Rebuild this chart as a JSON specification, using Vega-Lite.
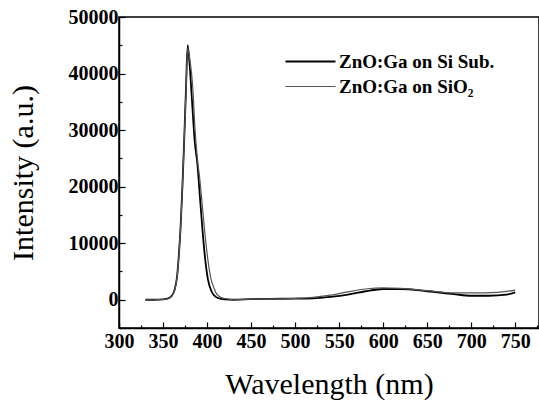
{
  "$schema": "https://vega.github.io/schema/vega-lite/v6.json",
  "width": 420,
  "height": 311,
  "autosize": "none",
  "padding": {"left": 119, "top": 17, "right": 0, "bottom": 77},
  "background": "white",
  "config": {
    "view": {"stroke": "black", "strokeWidth": 1.5},
    "font": "Liberation Serif, Times New Roman, serif",
    "axis": {
      "domainColor": "black", "domainWidth": 1.5, "tickColor": "black", "tickWidth": 1.2,
      "grid": false, "labelFont": "Liberation Serif, Times New Roman, serif", "labelFontWeight": "bold", "labelFontSize": 20,
      "labelColor": "black", "titleFont": "Liberation Serif, Times New Roman, serif", "titleFontWeight": "normal",
      "titleFontSize": 30, "titleColor": "black", "format": "d", "labelFlush": false, "labelOverlap": false
    }
  },
  "datasets": {
    "spectra": [
      {"wl": 330, "I": 0, "s": "ZnO:Ga on Si Sub."},
      {"wl": 340, "I": 0, "s": "ZnO:Ga on Si Sub."},
      {"wl": 350, "I": 60, "s": "ZnO:Ga on Si Sub."},
      {"wl": 355, "I": 180, "s": "ZnO:Ga on Si Sub."},
      {"wl": 360, "I": 700, "s": "ZnO:Ga on Si Sub."},
      {"wl": 363, "I": 1700, "s": "ZnO:Ga on Si Sub."},
      {"wl": 366, "I": 4200, "s": "ZnO:Ga on Si Sub."},
      {"wl": 368, "I": 8000, "s": "ZnO:Ga on Si Sub."},
      {"wl": 370, "I": 13000, "s": "ZnO:Ga on Si Sub."},
      {"wl": 372, "I": 20000, "s": "ZnO:Ga on Si Sub."},
      {"wl": 374, "I": 28000, "s": "ZnO:Ga on Si Sub."},
      {"wl": 376, "I": 37000, "s": "ZnO:Ga on Si Sub."},
      {"wl": 378, "I": 45000, "s": "ZnO:Ga on Si Sub."},
      {"wl": 380, "I": 42000, "s": "ZnO:Ga on Si Sub."},
      {"wl": 383, "I": 35000, "s": "ZnO:Ga on Si Sub."},
      {"wl": 386, "I": 28000, "s": "ZnO:Ga on Si Sub."},
      {"wl": 389, "I": 24000, "s": "ZnO:Ga on Si Sub."},
      {"wl": 392, "I": 18000, "s": "ZnO:Ga on Si Sub."},
      {"wl": 395, "I": 12000, "s": "ZnO:Ga on Si Sub."},
      {"wl": 398, "I": 7000, "s": "ZnO:Ga on Si Sub."},
      {"wl": 401, "I": 3600, "s": "ZnO:Ga on Si Sub."},
      {"wl": 405, "I": 1500, "s": "ZnO:Ga on Si Sub."},
      {"wl": 410, "I": 500, "s": "ZnO:Ga on Si Sub."},
      {"wl": 415, "I": 200, "s": "ZnO:Ga on Si Sub."},
      {"wl": 420, "I": 50, "s": "ZnO:Ga on Si Sub."},
      {"wl": 430, "I": 0, "s": "ZnO:Ga on Si Sub."},
      {"wl": 450, "I": 100, "s": "ZnO:Ga on Si Sub."},
      {"wl": 470, "I": 150, "s": "ZnO:Ga on Si Sub."},
      {"wl": 500, "I": 200, "s": "ZnO:Ga on Si Sub."},
      {"wl": 520, "I": 250, "s": "ZnO:Ga on Si Sub."},
      {"wl": 540, "I": 500, "s": "ZnO:Ga on Si Sub."},
      {"wl": 560, "I": 900, "s": "ZnO:Ga on Si Sub."},
      {"wl": 580, "I": 1500, "s": "ZnO:Ga on Si Sub."},
      {"wl": 600, "I": 1900, "s": "ZnO:Ga on Si Sub."},
      {"wl": 620, "I": 1900, "s": "ZnO:Ga on Si Sub."},
      {"wl": 650, "I": 1500, "s": "ZnO:Ga on Si Sub."},
      {"wl": 680, "I": 1000, "s": "ZnO:Ga on Si Sub."},
      {"wl": 700, "I": 700, "s": "ZnO:Ga on Si Sub."},
      {"wl": 720, "I": 700, "s": "ZnO:Ga on Si Sub."},
      {"wl": 740, "I": 900, "s": "ZnO:Ga on Si Sub."},
      {"wl": 750, "I": 1300, "s": "ZnO:Ga on Si Sub."},
      {"wl": 330, "I": 0, "s": "ZnO:Ga on SiO₂"},
      {"wl": 340, "I": 0, "s": "ZnO:Ga on SiO₂"},
      {"wl": 350, "I": 50, "s": "ZnO:Ga on SiO₂"},
      {"wl": 355, "I": 160, "s": "ZnO:Ga on SiO₂"},
      {"wl": 360, "I": 650, "s": "ZnO:Ga on SiO₂"},
      {"wl": 363, "I": 1600, "s": "ZnO:Ga on SiO₂"},
      {"wl": 366, "I": 4000, "s": "ZnO:Ga on SiO₂"},
      {"wl": 368, "I": 7800, "s": "ZnO:Ga on SiO₂"},
      {"wl": 370, "I": 12800, "s": "ZnO:Ga on SiO₂"},
      {"wl": 372, "I": 19800, "s": "ZnO:Ga on SiO₂"},
      {"wl": 374, "I": 27800, "s": "ZnO:Ga on SiO₂"},
      {"wl": 376, "I": 36500, "s": "ZnO:Ga on SiO₂"},
      {"wl": 378, "I": 44500, "s": "ZnO:Ga on SiO₂"},
      {"wl": 380, "I": 43000, "s": "ZnO:Ga on SiO₂"},
      {"wl": 384, "I": 37000, "s": "ZnO:Ga on SiO₂"},
      {"wl": 386, "I": 31000, "s": "ZnO:Ga on SiO₂"},
      {"wl": 389, "I": 25000, "s": "ZnO:Ga on SiO₂"},
      {"wl": 392, "I": 21000, "s": "ZnO:Ga on SiO₂"},
      {"wl": 395, "I": 16000, "s": "ZnO:Ga on SiO₂"},
      {"wl": 398, "I": 11000, "s": "ZnO:Ga on SiO₂"},
      {"wl": 401, "I": 7000, "s": "ZnO:Ga on SiO₂"},
      {"wl": 404, "I": 4000, "s": "ZnO:Ga on SiO₂"},
      {"wl": 408, "I": 2000, "s": "ZnO:Ga on SiO₂"},
      {"wl": 412, "I": 800, "s": "ZnO:Ga on SiO₂"},
      {"wl": 418, "I": 300, "s": "ZnO:Ga on SiO₂"},
      {"wl": 425, "I": 100, "s": "ZnO:Ga on SiO₂"},
      {"wl": 430, "I": 0, "s": "ZnO:Ga on SiO₂"},
      {"wl": 450, "I": 100, "s": "ZnO:Ga on SiO₂"},
      {"wl": 500, "I": 250, "s": "ZnO:Ga on SiO₂"},
      {"wl": 520, "I": 400, "s": "ZnO:Ga on SiO₂"},
      {"wl": 540, "I": 800, "s": "ZnO:Ga on SiO₂"},
      {"wl": 560, "I": 1400, "s": "ZnO:Ga on SiO₂"},
      {"wl": 580, "I": 1900, "s": "ZnO:Ga on SiO₂"},
      {"wl": 600, "I": 2100, "s": "ZnO:Ga on SiO₂"},
      {"wl": 620, "I": 2000, "s": "ZnO:Ga on SiO₂"},
      {"wl": 650, "I": 1600, "s": "ZnO:Ga on SiO₂"},
      {"wl": 680, "I": 1200, "s": "ZnO:Ga on SiO₂"},
      {"wl": 700, "I": 1200, "s": "ZnO:Ga on SiO₂"},
      {"wl": 730, "I": 1300, "s": "ZnO:Ga on SiO₂"},
      {"wl": 750, "I": 1700, "s": "ZnO:Ga on SiO₂"}
    ]
  },
  "data": {"name": "spectra"},
  "layer": [
    {
      "mark": {"type": "line", "interpolate": "monotone"},
      "encoding": {
        "x": {"field": "wl", "type": "quantitative", "scale": {"domain": [300, 777], "nice": false},
          "axis": {"title": "Wavelength (nm)", "values": [300, 350, 400, 450, 500, 550, 600, 650, 700, 750],
            "tickSize": -6, "labelPadding": 9, "titlePadding": 18, "orient": "bottom"}},
        "y": {"field": "I", "type": "quantitative", "scale": {"domain": [-5000, 50000], "nice": false},
          "axis": {"title": "Intensity (a.u.)", "values": [0, 10000, 20000, 30000, 40000, 50000],
            "tickSize": -6, "labelPadding": 7, "titlePadding": 30, "orient": "left"}},
        "color": {"field": "s", "type": "nominal",
          "scale": {"domain": ["ZnO:Ga on Si Sub.", "ZnO:Ga on SiO₂"], "range": ["black", "#555555"]},
          "legend": {"title": null, "orient": "none", "legendX": 178, "legendY": 31, "symbolType": "M-2,0H2",
            "symbolSize": 625, "symbolStrokeWidth": 2, "labelFont": "Liberation Serif, Times New Roman, serif", "labelFontWeight": "bold",
            "labelFontSize": 19, "labelColor": "black", "labelOffset": 15, "rowPadding": 1}},
        "strokeWidth": {"field": "s", "type": "nominal",
          "scale": {"domain": ["ZnO:Ga on Si Sub.", "ZnO:Ga on SiO₂"], "range": [1.8, 1.2]}, "legend": null}
      }
    },
    {
      "mark": {"type": "line", "opacity": 0},
      "encoding": {
        "x": {"field": "wl", "type": "quantitative",
          "axis": {"title": null, "values": [325, 375, 425, 475, 525, 575, 625, 675, 725, 775], "labels": false,
            "domain": false, "tickSize": -3, "orient": "bottom"}},
        "y": {"field": "I", "type": "quantitative",
          "axis": {"title": null, "values": [-5000, 5000, 15000, 25000, 35000, 45000], "labels": false,
            "domain": false, "tickSize": -3, "orient": "left"}},
        "detail": {"field": "s"}
      }
    }
  ],
  "resolve": {"axis": {"x": "independent", "y": "independent"}}
}
